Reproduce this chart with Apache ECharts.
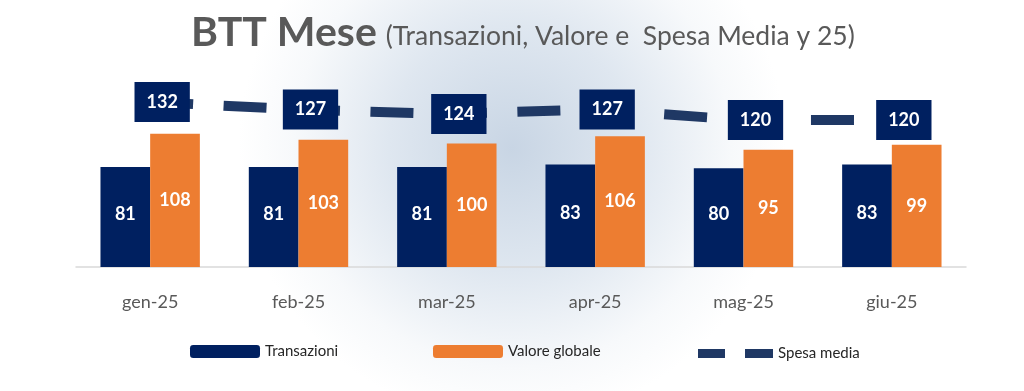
<!DOCTYPE html>
<html><head><meta charset="utf-8">
<script src="https://cdn.jsdelivr.net/npm/echarts@6/dist/echarts.min.js"></script>
<style>html,body{margin:0;padding:0;background:#fff}#c{width:1024px;height:391px}</style>
</head><body><div id="c"></div>
<script>
const categories = ['gen-25','feb-25','mar-25','apr-25','mag-25','giu-25'];
const transazioni = [81, 81, 81, 83, 80, 83];
const valoreGlobale = [108, 103, 100, 106, 95, 99];
const spesaMedia = [132, 127, 124, 127, 120, 120];
const seriesNames = ['Transazioni', 'Valore globale', 'Spesa media'];

const FONT = 'Lato, "Open Sans", sans-serif';
const NAVY = '#002060', ORANGE = '#ED7D31', DASH = '#1F3864';
const chart = echarts.init(document.getElementById('c'), null, {renderer: 'canvas'});
chart.setOption({
  backgroundColor: {
    type: 'radial', x: 0.5, y: 0.38, r: 0.7,
    colorStops: [
      {offset: 0, color: '#c8d5e4'},
      {offset: 0.45, color: '#dfe7f0'},
      {offset: 0.8, color: '#f7f9fb'},
      {offset: 1, color: '#ffffff'}
    ]
  },
  animation: false,
  title: {
    left: 186, top: 7,
    text: '{a|BTT Mese}{b|(Transazioni, Valore e  Spesa Media y 25)}',
    textStyle: {
      rich: {
        a: {fontFamily: FONT, fontSize: 41, fontWeight: 'bold', color: '#595959'},
        b: {fontFamily: FONT, fontSize: 26.5, fontWeight: 'normal', color: '#595959', padding: [8, 0, 0, 9]}
      }
    }
  },
  legend: [
    {data: [seriesNames[0]], left: 185, top: 339, itemWidth: 70, itemHeight: 13, itemGap: 10,
     textStyle: {fontFamily: FONT, fontSize: 15, color: '#262626'}},
    {data: [seriesNames[1]], left: 428, top: 339, itemWidth: 70, itemHeight: 13,
     textStyle: {fontFamily: FONT, fontSize: 15, color: '#262626'}},
    {data: [{name: seriesNames[2], icon: 'path://M0,0H27V9H0Z M47,0H75V9H47Z'}], left: 693, top: 341,
     itemWidth: 75, itemHeight: 9,
     itemStyle: {color: DASH},
     textStyle: {fontFamily: FONT, fontSize: 15, color: '#262626'}}
  ],
  grid: {left: 76, right: 58, top: 67, bottom: 124, containLabel: false},
  xAxis: {
    type: 'category', data: categories,
    axisLine: {lineStyle: {color: '#d9d9d9', width: 1.5}},
    axisTick: {show: false},
    axisLabel: {fontFamily: FONT, fontSize: 18, color: '#595959', margin: 26}
  },
  yAxis: [
    {type: 'value', min: 0, max: 162, show: false, splitLine: {show: false}},
    {type: 'value', min: 22, max: 155.3, show: false, splitLine: {show: false}}
  ],
  series: [
    {name: seriesNames[0], type: 'bar', data: transazioni, barGap: '0%', barCategoryGap: '33%',
     itemStyle: {color: NAVY},
     label: {show: true, position: 'inside', color: '#fff', fontFamily: FONT, fontWeight: 'bold', fontSize: 18, offset: [0, -3]}},
    {name: seriesNames[1], type: 'bar', data: valoreGlobale,
     itemStyle: {color: ORANGE},
     label: {show: true, position: 'inside', color: '#fff', fontFamily: FONT, fontWeight: 'bold', fontSize: 18}},
    {name: seriesNames[2], type: 'line', yAxisIndex: 1, data: spesaMedia,
     symbol: 'circle', symbolSize: 1, itemStyle: {color: DASH},
     lineStyle: {color: DASH, width: 10, type: [43, 30.5], dashOffset: 0, cap: 'butt'},
     label: {show: true, position: 'inside', offset: [12, 0], color: '#fff', backgroundColor: NAVY,
       fontFamily: FONT, fontWeight: 'bold', fontSize: 18, padding: [11, 12, 11, 12]},
     z: 3}
  ]
});
</script></body></html>
